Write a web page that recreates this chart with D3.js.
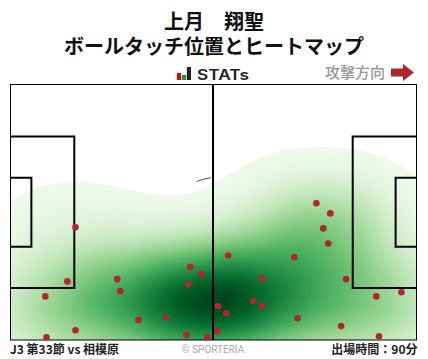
<!DOCTYPE html>
<html>
<head>
<meta charset="utf-8">
<script src="https://cdn.jsdelivr.net/npm/d3@7"></script>
<style>
  html, body { margin: 0; padding: 0; background: #fff; }
  svg { display: block; font-family: "Noto Sans CJK JP", sans-serif; }
</style>
</head>
<body>
<svg id="chart"></svg>
<script>
// Touch positions in metres (pitch is 105 x 68)
const touchX = [16.8, 14.7, 9.0, 27.6, 28.4, 33.1, 40.3, 46.5, 49.3, 46.0, 16.8, 9.3, 45.5, 50.9, 79.1, 82.7,
  80.9, 82.2, 56.3, 73.4, 65.1, 86.8, 94.6, 101.1, 53.7, 62.8, 65.1, 55.8, 74.2, 85.5, 95.3, 53.4];
const touchY = [38.0, 52.4, 56.4, 51.8, 55.0, 62.7, 62.0, 48.6, 50.5, 53.2, 65.4, 67.3, 66.7, 67.3, 31.6, 34.3,
  38.3, 42.3, 45.5, 46.0, 51.6, 51.8, 56.4, 55.3, 59.0, 57.7, 59.0, 60.9, 62.2, 64.3, 67.0, 65.7];

const titleLines = ["上月　翔聖", "ボールタッチ位置とヒートマップ"];
const footerLeft = "J3 第33節 vs 相模原";
const footerRight = "出場時間：90分";
const credit = "© SPORTERIA";
const direction = "攻撃方向";
const logoBars = [7, 5, 13];
const logoColors = ["#e60012", "#1a9a3c", "#222"];

const width = 428;
const height = 359;
const left = 10.5, right = 416.5, top_ = 84.5, bottom = 340;

const svg = d3.select("#chart").attr("width", width).attr("height", height);

const xScale = d3.scaleLinear().domain([0, 105]).range([left, right]);
const yScale = d3.scaleLinear().domain([0, 68]).range([top_, bottom]);
const points = touchX.map((d, i) => [xScale(d), yScale(touchY[i])]);

function drawHeader() {
  svg.selectAll(".title")
    .data(titleLines)
    .enter()
    .append("text")
    .attr("class", "title")
    .attr("x", 214)
    .attr("y", (d, i) => 29 + i * 24.5)
    .attr("text-anchor", "middle")
    .attr("font-size", 20)
    .attr("font-weight", 700)
    .attr("fill", "#111")
    .text(d => d);

  // STATs logo
  const logoX = d3.scaleBand().domain(d3.range(3)).range([177, 191]).paddingInner(0.15);
  const logoH = d3.scaleLinear().domain([0, 13]).range([0, 13]);
  svg.selectAll(".logo")
    .data(logoBars)
    .enter()
    .append("rect")
    .attr("class", "logo")
    .attr("x", (d, i) => logoX(i))
    .attr("y", d => 80 - logoH(d))
    .attr("width", logoX.bandwidth())
    .attr("height", d => logoH(d))
    .attr("fill", (d, i) => logoColors[i]);
  svg.append("text")
    .attr("x", 197).attr("y", 79.5)
    .attr("font-family", "Inter, sans-serif")
    .attr("font-size", 14.5).attr("font-weight", 600)
    .attr("fill", "#222")
    .attr("textLength", 52)
    .attr("lengthAdjust", "spacingAndGlyphs")
    .text("STATs");

  svg.append("text")
    .attr("x", 325).attr("y", 78)
    .attr("font-size", 15).attr("font-weight", 500)
    .attr("fill", "#999")
    .text(direction);
  svg.append("path")
    .attr("d", "M391,68.5H403V64L414,72.5L403,81V76.5H391Z")
    .attr("fill", "#b0262e");
}

function drawHeat() {
  svg.append("clipPath").attr("id", "field")
    .append("rect")
    .attr("x", left).attr("y", top_)
    .attr("width", right - left).attr("height", bottom - top_);

  // the heat is wider than tall, so squeeze x, estimate, then stretch back
  const squeeze = 0.62;
  const density = d3.contourDensity()
    .x(d => d[0] * squeeze)
    .y(d => d[1])
    .size([width * squeeze, height + 120])
    .cellSize(2)
    .bandwidth(31)
    .contours(points);

  const levels = d3.range(0.04, 1, 0.01);
  const color = d3.scaleSequential(t => d3.interpolateGreens(0.03 + 0.97 * Math.pow(t, 1.12))).domain([0, 1.0]);

  svg.append("g")
    .attr("clip-path", "url(#field)")
    .append("g")
    .attr("transform", `scale(${1 / squeeze},1)`)
    .selectAll("path")
    .data(levels)
    .enter()
    .append("path")
    .attr("d", d => d3.geoPath()(density(d * density.max)))
    .attr("fill", d => color(d));
}

function drawPitch() {
  const g = svg.append("g").attr("fill", "none").attr("stroke", "#000");
  g.append("rect")
    .attr("x", left).attr("y", top_)
    .attr("width", right - left).attr("height", bottom - top_)
    .attr("stroke-width", 1);

  const boxes = [[0, 16.5, 13.84, 54.16], [0, 5.4, 24.84, 43.16], [88.5, 105, 13.84, 54.16], [99.6, 105, 24.84, 43.16]];
  g.selectAll(".box")
    .data(boxes)
    .enter()
    .append("path")
    .attr("class", "box")
    .attr("stroke-width", 2)
    .attr("d", d => d[0] === 0
      ? `M${xScale(d[0])},${yScale(d[2])}H${xScale(d[1])}V${yScale(d[3])}H${xScale(d[0])}`
      : `M${xScale(d[1])},${yScale(d[2])}H${xScale(d[0])}V${yScale(d[3])}H${xScale(d[1])}`);

  g.append("line")
    .attr("x1", 213).attr("x2", 213)
    .attr("y1", top_).attr("y2", bottom)
    .attr("stroke-width", 2);

  // leftover bit of the centre circle
  g.append("path")
    .attr("d", "M196.5,181.5Q203,178.8 211,177.7")
    .attr("stroke-width", 0.7);
}

function drawPoints() {
  svg.append("g")
    .selectAll("circle")
    .data(points)
    .enter()
    .append("circle")
    .attr("cx", d => d[0])
    .attr("cy", d => d[1])
    .attr("r", 3.3)
    .attr("fill", "#b2252f");
}

function drawFooter() {
  svg.append("text")
    .attr("x", 10).attr("y", 354)
    .attr("font-size", 12).attr("font-weight", 700).attr("fill", "#222")
    .text(footerLeft);
  svg.append("text")
    .attr("x", 417.5).attr("y", 354)
    .attr("text-anchor", "end")
    .attr("font-size", 12).attr("font-weight", 700).attr("fill", "#222")
    .text(footerRight);
  svg.append("text")
    .attr("x", 213).attr("y", 353)
    .attr("text-anchor", "middle")
    .attr("font-family", "Roboto, sans-serif")
    .attr("font-size", 10).attr("fill", "#aaa")
    .text(credit);
}

drawHeader();
drawHeat();
drawPitch();
drawPoints();
drawFooter();
</script>
</body>
</html>
